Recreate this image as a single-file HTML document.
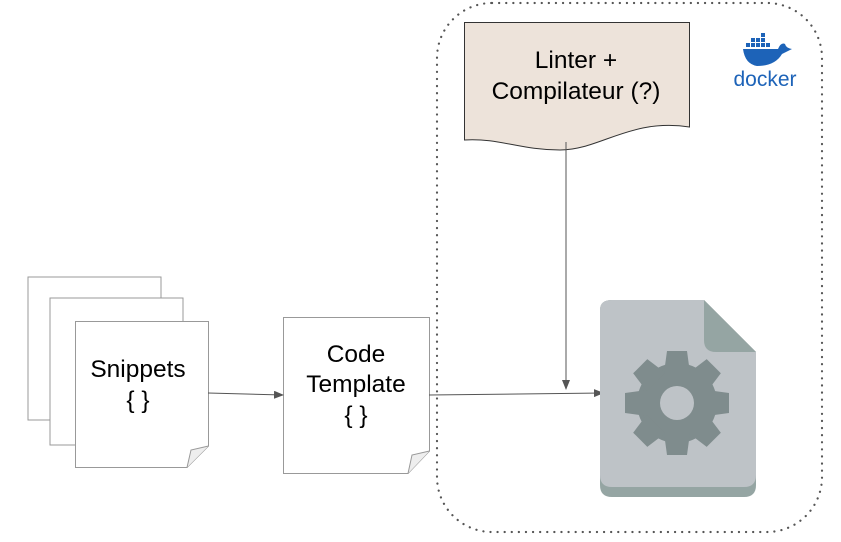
<!DOCTYPE html>
<html><head><style>body{margin:0;background:#fff}svg{display:block}</style></head><body>
<svg width="841" height="542" viewBox="0 0 841 542" xmlns="http://www.w3.org/2000/svg" font-family="Liberation Sans, sans-serif">
<defs><marker id="a" markerWidth="10" markerHeight="8" refX="9" refY="4" orient="auto" markerUnits="userSpaceOnUse"><path d="M0,0 L10,4 L0,8 Z" fill="#555"/></marker></defs>
<rect x="437" y="3" width="385" height="529" rx="55" fill="none" stroke="#555" stroke-width="2.2" stroke-dasharray="0.1 7" stroke-linecap="round"/>
<!-- snippets -->
<rect x="28" y="277" width="133" height="143" fill="#fff" stroke="#999"/>
<rect x="50" y="298" width="133" height="147" fill="#fff" stroke="#999"/>
<path d="M75.5,321.5 H208.5 V446 L187,467.5 H75.5 Z" fill="#fff" stroke="#999"/>
<path d="M187,467.5 L191,450 L208.5,446" fill="#eee" stroke="#999"/>
<text x="138" y="377" font-size="24.5" text-anchor="middle">Snippets</text>
<text x="138" y="408" font-size="24.5" text-anchor="middle">{ }</text>
<!-- code template -->
<path d="M283.5,317.5 H429.5 V451 L408,473.5 H283.5 Z" fill="#fff" stroke="#999"/>
<path d="M408,473.5 L412,455 L429.5,451" fill="#eee" stroke="#999"/>
<text x="356" y="362" font-size="24.5" text-anchor="middle">Code</text>
<text x="356" y="392" font-size="24.5" text-anchor="middle">Template</text>
<text x="356" y="423" font-size="24.5" text-anchor="middle">{ }</text>
<!-- linter -->
<path d="M464.5,22.5 H689.5 V127 C630,118 600,150 560,150 C520,150 500,138 464.5,140 Z" fill="#ede3da" stroke="#333"/>
<text x="576" y="68" font-size="24.5" text-anchor="middle">Linter +</text>
<text x="576" y="99" font-size="24.5" text-anchor="middle">Compilateur (?)</text>
<!-- arrows -->
<line x1="208" y1="393" x2="283" y2="395" stroke="#555" marker-end="url(#a)"/>
<line x1="429" y1="395" x2="603" y2="393" stroke="#555" marker-end="url(#a)"/>
<line x1="566" y1="142" x2="566" y2="389" stroke="#555" marker-end="url(#a)"/>
<!-- file icon -->
<path d="M600,310 Q600,300 612,300 H704 L756,352 V485 Q756,497 744,497 H612 Q600,497 600,485 Z" fill="#95a5a3"/>
<path d="M600,310 Q600,300 612,300 H704 L756,352 V475 Q756,487 744,487 H612 Q600,487 600,475 Z" fill="#bec3c7"/>
<path d="M704,300 V340 Q704,352 716,352 H756 Z" fill="#95a5a3"/>
<g fill="#7f8c8d" transform="translate(677,403)">
<circle r="40"/>
<g id="t"><path d="M-10,-52 H10 L13,-30 H-13 Z"/></g>
<use href="#t" transform="rotate(45)"/><use href="#t" transform="rotate(90)"/><use href="#t" transform="rotate(135)"/><use href="#t" transform="rotate(180)"/><use href="#t" transform="rotate(225)"/><use href="#t" transform="rotate(270)"/><use href="#t" transform="rotate(315)"/>
<circle r="17" fill="#bec3c7"/>
</g>
<!-- docker -->
<g fill="#1d63b8">
<rect x="746" y="43" width="4" height="4"/><rect x="751" y="43" width="4" height="4"/><rect x="756" y="43" width="4" height="4"/><rect x="761" y="43" width="4" height="4"/><rect x="766" y="43" width="4" height="4"/>
<rect x="751" y="38" width="4" height="4"/><rect x="756" y="38" width="4" height="4"/><rect x="761" y="38" width="4" height="4"/>
<rect x="761" y="33" width="4" height="4"/>
<path d="M743,49 H778 Q781,42 785,44 Q786,48 792,49 Q786,52 782,54 Q775,66 757,66 Q745,64 743,49 Z"/>
</g>
<text x="765" y="86" font-size="21" fill="#1d63b8" text-anchor="middle">docker</text>
</svg>
</body></html>
